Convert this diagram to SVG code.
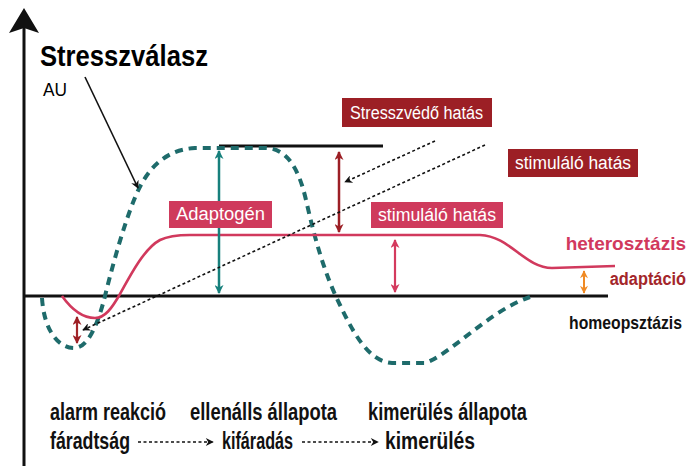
<svg xmlns="http://www.w3.org/2000/svg" width="694" height="466" viewBox="0 0 694 466">
<style>
.t{font-family:"Liberation Sans",Arial,sans-serif;font-weight:bold}
.bx{font-family:"Liberation Sans",Arial,sans-serif;fill:#fff;font-size:18px}
.dot{stroke:#111;stroke-width:1.6;stroke-dasharray:3 2.5;fill:none}
</style>
<defs>
<marker id="mTeal" viewBox="0 0 10 10" refX="9" refY="5" markerUnits="userSpaceOnUse" markerWidth="11" markerHeight="9" orient="auto-start-reverse"><path d="M0,0 L10,5 L0,10 L3,5 z" fill="#17807c"/></marker>
<marker id="mRed" viewBox="0 0 10 10" refX="9" refY="5" markerUnits="userSpaceOnUse" markerWidth="11" markerHeight="9" orient="auto-start-reverse"><path d="M0,0 L10,5 L0,10 L3,5 z" fill="#9c1f25"/></marker>
<marker id="mPink" viewBox="0 0 10 10" refX="9" refY="5" markerUnits="userSpaceOnUse" markerWidth="11" markerHeight="9" orient="auto-start-reverse"><path d="M0,0 L10,5 L0,10 L3,5 z" fill="#d43a5e"/></marker>
<marker id="mOrange" viewBox="0 0 10 10" refX="9" refY="5" markerUnits="userSpaceOnUse" markerWidth="9" markerHeight="8" orient="auto-start-reverse"><path d="M0,0 L10,5 L0,10 L3,5 z" fill="#f08a24"/></marker>
<marker id="mBlk" viewBox="0 0 10 10" refX="9" refY="5" markerUnits="userSpaceOnUse" markerWidth="10" markerHeight="8" orient="auto"><path d="M0,0 L10,5 L0,10 L3,5 z" fill="#111"/></marker>
</defs>
<rect width="694" height="466" fill="#fff"/>

<g id="axes">
<line x1="24" y1="26" x2="24" y2="466" stroke="#111" stroke-width="3"/>
<polygon points="24,8 9,33 24,28 39,33" fill="#111"/>
<line x1="24" y1="296" x2="608" y2="296" stroke="#111" stroke-width="3"/>
<line x1="219" y1="146" x2="383" y2="146" stroke="#111" stroke-width="3"/>
</g>

<g id="title">
<text class="t" x="40" y="66" font-size="30" textLength="168" lengthAdjust="spacingAndGlyphs">Stresszválasz</text>
<text x="43" y="96" font-family="Liberation Sans, Arial, sans-serif" font-size="19" textLength="24" lengthAdjust="spacingAndGlyphs">AU</text>
</g>

<g id="curves">
<path d="M 42 298 C 44 330, 58 348, 74 348 C 88 348, 98 325, 106 292 C 114 260, 124 225, 134 200 C 144 175, 160 150, 195 148 L 265 148 C 285 148, 298 165, 306 200 C 315 240, 325 275, 340 305 C 352 330, 368 362, 392 363 L 425 363 C 450 355, 490 310, 530 297" fill="none" stroke="#1e6b6b" stroke-width="4" stroke-dasharray="8 6"/>
<path d="M 62 296 C 72 310, 83 318, 95 318 C 105 318, 112 308, 120 294 C 132 272, 145 248, 160 240 C 168 236, 178 235, 190 235 L 480 235 C 510 236, 525 268, 552 268 L 615 266" fill="none" stroke="#d1395d" stroke-width="2.6"/>
</g>

<g id="connectors">
<line x1="85" y1="77" x2="138" y2="188" stroke="#111" stroke-width="1.6" marker-end="url(#mBlk)"/>
<line x1="219" y1="151" x2="219" y2="293" stroke="#17807c" stroke-width="2.5" marker-start="url(#mTeal)" marker-end="url(#mTeal)"/>
<line x1="339" y1="152" x2="339" y2="232" stroke="#9c1f25" stroke-width="2.5" marker-start="url(#mRed)" marker-end="url(#mRed)"/>
<line x1="395" y1="240" x2="395" y2="292" stroke="#d43a5e" stroke-width="2.2" marker-start="url(#mPink)" marker-end="url(#mPink)"/>
<line x1="584" y1="271" x2="584" y2="293" stroke="#f08a24" stroke-width="2" marker-start="url(#mOrange)" marker-end="url(#mOrange)"/>
<line x1="77" y1="317" x2="77" y2="343" stroke="#a3262a" stroke-width="2.2" marker-start="url(#mRed)" marker-end="url(#mRed)"/>
<line class="dot" x1="485" y1="145" x2="83" y2="330" marker-end="url(#mBlk)"/>
<line class="dot" x1="435" y1="141" x2="345" y2="182" marker-end="url(#mBlk)"/>
<line class="dot" x1="138" y1="442" x2="213" y2="442" marker-end="url(#mBlk)"/>
<line class="dot" x1="302" y1="442" x2="378" y2="442" marker-end="url(#mBlk)"/>
</g>

<g id="stresszvedo">
<rect x="342" y="98" width="150" height="29" fill="#9c1f25"/>
<text class="bx" x="350" y="119" textLength="133" lengthAdjust="spacingAndGlyphs">Stresszvédő hatás</text>
</g>
<g id="stimulalo-dark">
<rect x="508" y="149" width="130" height="28" fill="#9c1f25"/>
<text class="bx" x="515" y="169" textLength="116" lengthAdjust="spacingAndGlyphs">stimuláló hatás</text>
</g>
<g id="stimulalo-pink">
<rect x="371" y="202" width="132" height="26" fill="#cf3a5c"/>
<text class="bx" x="378" y="221" textLength="118" lengthAdjust="spacingAndGlyphs">stimuláló hatás</text>
</g>
<g id="adaptogen">
<rect x="169" y="201" width="103" height="27" fill="#cf3a5c"/>
<text class="bx" x="176" y="220" textLength="89" lengthAdjust="spacingAndGlyphs">Adaptogén</text>
</g>

<g id="levels">
<text class="t" x="686" y="250" font-size="19" fill="#d1395d" text-anchor="end">heterosztázis</text>
<text class="t" transform="translate(686 285) scale(0.86 1)" x="0" y="0" font-size="19" fill="#a3262a" text-anchor="end">adaptáció</text>
<text class="t" transform="translate(682 329) scale(0.83 1)" x="0" y="0" font-size="19" fill="#111" text-anchor="end">homeopsztázis</text>
</g>

<g id="phases">
<text class="t" x="50" y="420" font-size="23" fill="#111" textLength="116" lengthAdjust="spacingAndGlyphs">alarm reakció</text>
<text class="t" x="190" y="420" font-size="23" fill="#111" textLength="147" lengthAdjust="spacingAndGlyphs">ellenálls állapota</text>
<text class="t" x="368" y="420" font-size="23" fill="#111" textLength="159" lengthAdjust="spacingAndGlyphs">kimerülés állapota</text>
<text class="t" x="50" y="449" font-size="23" fill="#111" textLength="80" lengthAdjust="spacingAndGlyphs">fáradtság</text>
<text class="t" x="222" y="449" font-size="23" fill="#111" textLength="71" lengthAdjust="spacingAndGlyphs">kifáradás</text>
<text class="t" x="385" y="449" font-size="23" fill="#111" textLength="90" lengthAdjust="spacingAndGlyphs">kimerülés</text>
</g>
</svg>
